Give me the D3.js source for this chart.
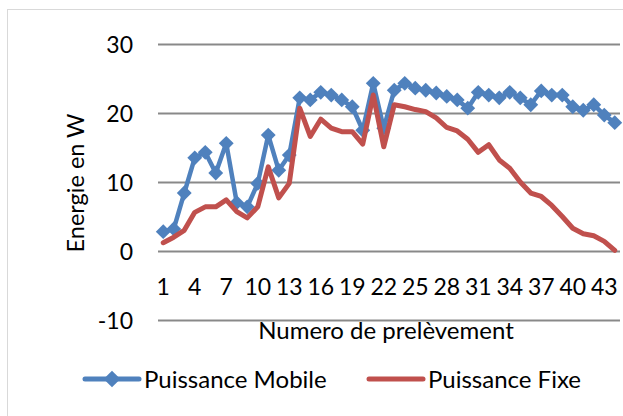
<!DOCTYPE html>
<html lang="fr">
<head>
<meta charset="utf-8">
<title>Puissance Mobile / Fixe</title>
<script src="https://cdn.jsdelivr.net/npm/d3@7"></script>
<style>
  body { margin: 0; background: #fff; }
  svg text { font-family: Lato, "Open Sans", sans-serif; fill: #000; }
</style>
</head>
<body>
<script>
// valeurs
const prelevements = d3.range(1, 45);
const puissanceMobile = [2.8, 3.2, 8.4, 13.5, 14.3, 11.3, 15.6, 7.0, 6.4, 9.8,
  16.8, 11.7, 13.9, 22.2, 21.9, 23.0, 22.6, 21.9, 20.9, 17.5,
  24.3, 17.8, 23.3, 24.3, 23.6, 23.3, 22.9, 22.4, 21.9, 20.7,
  23.0, 22.6, 22.2, 23.0, 22.2, 21.2, 23.2, 22.6, 22.6, 20.9,
  20.4, 21.2, 19.7, 18.6];
const puissanceFixe = [1.2, 2.0, 3.0, 5.6, 6.4, 6.4, 7.4, 5.7, 4.8, 6.4,
  12.2, 7.7, 9.8, 20.7, 16.6, 19.1, 17.8, 17.3, 17.3, 15.5,
  22.6, 15.1, 21.2, 20.9, 20.5, 20.2, 19.3, 17.9, 17.4, 16.2,
  14.3, 15.4, 13.2, 12.0, 10.0, 8.4, 7.9, 6.6, 5.0, 3.3,
  2.5, 2.2, 1.4, 0.1];
const yTicks = [-10, 0, 10, 20, 30];
const xTicks = [1, 4, 7, 10, 13, 16, 19, 22, 25, 28, 31, 34, 37, 40, 43];

const series = [
  { name: "Puissance Mobile", values: puissanceMobile, color: "#4f81bd", marker: true },
  { name: "Puissance Fixe", values: puissanceFixe, color: "#c0504d", marker: false }
];

const w = 623, h = 416;
const svg = d3.select("body").append("svg")
  .attr("width", w)
  .attr("height", h);

// cadre du graphique
svg.append("rect")
  .attr("x", 7.5).attr("y", 9.5)
  .attr("width", 640).attr("height", 430)
  .attr("fill", "none")
  .attr("stroke", "#d9d9d9");

const x = d3.scaleBand()
  .domain(prelevements)
  .range([158, 620]);

const y = d3.scaleLinear()
  .domain([-10, 30])
  .range([320, 44]);

// grille + etiquettes Y
const yAxis = svg.append("g")
  .attr("transform", "translate(158,0)")
  .call(d3.axisLeft(y).tickValues(yTicks).tickFormat(d => String(d)).tickSize(-462).tickPadding(25));
yAxis.select(".domain").remove();
yAxis.selectAll("line").attr("stroke", "#898989").attr("stroke-width", 1.8);
yAxis.selectAll("text").attr("font-size", "23px").attr("dy", "0.36em");

// axe X (sur la ligne 0)
const xAxis = svg.append("g")
  .attr("transform", "translate(0," + y(0) + ")")
  .call(d3.axisBottom(x).tickValues(xTicks).tickSize(0));
xAxis.select(".domain").remove();
xAxis.selectAll("text")
  .attr("font-size", "23px")
  .attr("y", 36)
  .attr("dy", "0.36em");

svg.append("text")
  .attr("transform", "translate(84,183) rotate(-90)")
  .attr("text-anchor", "middle")
  .attr("font-size", "23.5px")
  .text("Energie en W");

svg.append("text")
  .attr("x", 386).attr("y", 339)
  .attr("text-anchor", "middle")
  .attr("font-size", "24px")
  .text("Numero de prelèvement");

const cx = d => x(d) + x.bandwidth() / 2;

const line = d3.line()
  .x((d, i) => cx(prelevements[i]))
  .y(d => y(d));

const diamond = d3.symbol(d3.symbolSquare, 110);

series.forEach(s => {
  svg.append("path")
    .datum(s.values)
    .attr("d", line)
    .attr("fill", "none")
    .attr("stroke", s.color)
    .attr("stroke-width", s.marker ? 4.5 : 5)
    .attr("stroke-linejoin", "round")
    .attr("stroke-linecap", "round");
  if (s.marker) {
    svg.append("g").selectAll("path")
      .data(s.values)
      .enter()
      .append("path")
      .attr("d", diamond)
      .attr("transform", (d, i) => "translate(" + cx(prelevements[i]) + "," + y(d) + ") rotate(45)")
      .attr("fill", s.color);
  }
});

// legende
const legendX = [85, 369];
const legend = svg.append("g").selectAll("g")
  .data(series)
  .enter()
  .append("g")
  .attr("transform", (d, i) => "translate(" + legendX[i] + ",379)");
legend.append("line")
  .attr("x1", 0).attr("x2", 54)
  .attr("stroke", d => d.color)
  .attr("stroke-width", 5)
  .attr("stroke-linecap", "round");
legend.filter(d => d.marker).append("path")
  .attr("d", d3.symbol(d3.symbolSquare, 140))
  .attr("transform", "translate(27,0) rotate(45)")
  .attr("fill", d => d.color);
legend.append("text")
  .attr("x", 59)
  .attr("dy", "0.36em")
  .attr("font-size", "24px")
  .text(d => d.name);
</script>
</body>
</html>
